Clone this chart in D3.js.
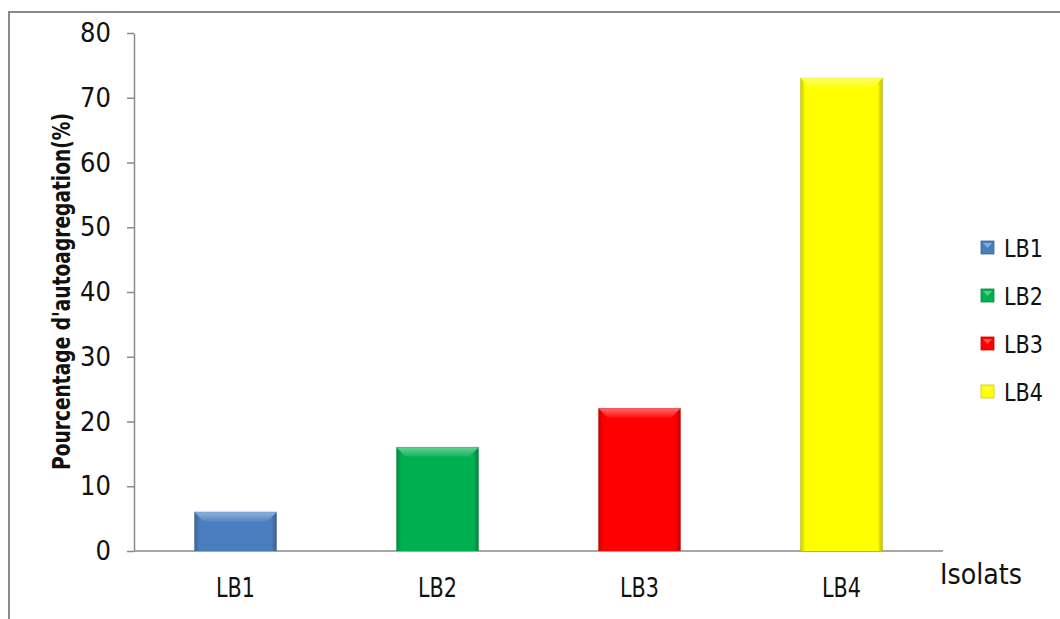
<!DOCTYPE html>
<html>
<head>
<meta charset="utf-8">
<script src="https://cdn.jsdelivr.net/npm/d3@7"></script>
<style>
  html, body { margin: 0; padding: 0; background: #fff; }
  svg { display: block; }
  text { font-family: "DejaVu Sans Condensed", "DejaVu Sans", sans-serif; fill: #111; }
</style>
</head>
<body>
<svg id="chart" width="1060" height="619"></svg>
<script>
// Auto-aggregation percentage per isolate
const categories = ["LB1", "LB2", "LB3", "LB4"];
const values = [6, 16, 22, 73];
const colors = ["#4a7ebf", "#00b050", "#ff0000", "#ffff00"];
const yTicks = [0, 10, 20, 30, 40, 50, 60, 70, 80];

(function draw() {
  const svg = d3.select("#chart");
  const W = 1060, H = 619;

  // chart area frame
  svg.append("rect")
    .attr("x", 9).attr("y", 12)
    .attr("width", W + 10).attr("height", H + 10)
    .attr("fill", "#fff").attr("stroke", "#8a8a8a").attr("stroke-width", 2);

  const plotL = 134, plotR = 943, plotT = 33, plotB = 551;

  const x = d3.scaleBand().domain(categories).range([plotL, plotR]).paddingInner(0.595).paddingOuter(0.3);
  const y = d3.scaleLinear().domain([0, 80]).range([plotB, plotT]);

  const defs = svg.append("defs");
  const soft = defs.append("filter").attr("id", "soft").attr("x", "-10%").attr("y", "-10%").attr("width", "120%").attr("height", "120%");
  soft.append("feGaussianBlur").attr("stdDeviation", 0.6);

  function shade(c, k) {
    return k > 0 ? d3.interpolateRgb(c, "#fff")(k) : d3.interpolateRgb(c, "#000")(-k);
  }

  categories.forEach((c, i) => {
    const g = defs.append("linearGradient").attr("id", "side" + i).attr("x1", 0).attr("x2", 1).attr("y1", 0).attr("y2", 0);
    g.append("stop").attr("offset", 0).attr("stop-color", shade(colors[i], -0.2));
    g.append("stop").attr("offset", 0.06).attr("stop-color", colors[i]);
    g.append("stop").attr("offset", 0.94).attr("stop-color", colors[i]);
    g.append("stop").attr("offset", 1).attr("stop-color", shade(colors[i], -0.25));
    const t = defs.append("linearGradient").attr("id", "bevel" + i).attr("x1", 0).attr("x2", 0).attr("y1", 0).attr("y2", 1);
    t.append("stop").attr("offset", 0).attr("stop-color", shade(colors[i], 0.4));
    t.append("stop").attr("offset", 1).attr("stop-color", shade(colors[i], 0.08));
  });

  // y axis
  const yAxis = d3.axisLeft(y).tickValues(yTicks).tickSize(7).tickPadding(16).tickSizeOuter(0);
  const ya = svg.append("g").attr("transform", `translate(${plotL},0)`).call(yAxis);
  ya.selectAll("path, line").attr("stroke", "#8a8a8a").attr("stroke-width", 1.5);
  ya.selectAll("text").attr("font-size", 27).attr("fill", "#111")
    .style("font-family", "'DejaVu Sans Condensed', 'DejaVu Sans', sans-serif");

  // x axis line
  svg.append("line").attr("x1", plotL).attr("x2", plotR).attr("y1", plotB).attr("y2", plotB)
    .attr("stroke", "#8a8a8a").attr("stroke-width", 1.5);

  // bars with bevelled top
  const bars = svg.append("g").selectAll("g").data(categories).join("g");
  bars.each(function(c, i) {
    const g = d3.select(this);
    const x0 = x(c), bw = x.bandwidth(), y0 = y(values[i]), h = plotB - y0;
    const b = Math.min(9, h / 2);
    g.append("rect").attr("x", x0 - 0.5).attr("y", y0 - 0.5).attr("width", bw + 1).attr("height", h + 0.5)
      .attr("fill", shade(colors[i], -0.35)).attr("opacity", 0.5).attr("filter", "url(#soft)");
    g.append("rect").attr("x", x0).attr("y", y0).attr("width", bw).attr("height", h)
      .attr("fill", `url(#side${i})`);
    g.append("polygon")
      .attr("points", [[x0, y0], [x0 + bw, y0], [x0 + bw - b, y0 + b], [x0 + b, y0 + b]].map(p => p.join(",")).join(" "))
      .attr("fill", `url(#bevel${i})`).attr("filter", "url(#soft)");
  });

  // category labels
  svg.append("g").selectAll("text").data(categories).join("text")
    .attr("x", d => x(d) + x.bandwidth() / 2).attr("y", 597)
    .attr("text-anchor", "middle").attr("font-size", 27)
    .attr("textLength", 39).attr("lengthAdjust", "spacingAndGlyphs").text(d => d);

  // axis titles
  svg.append("text").attr("x", 940).attr("y", 584).attr("font-size", 29)
    .attr("textLength", 82).attr("lengthAdjust", "spacingAndGlyphs").text("Isolats");
  svg.append("text")
    .attr("transform", `translate(70,${(113 + 470) / 2}) rotate(-90)`)
    .attr("text-anchor", "middle").attr("font-size", 25).attr("font-weight", "bold")
    .attr("textLength", 357).attr("lengthAdjust", "spacingAndGlyphs")
    .text("Pourcentage d'autoagregation(%)");

  // legend
  const lg = svg.append("g").selectAll("g").data(categories).join("g")
    .attr("transform", (d, i) => `translate(981,${248 + i * 48})`);
  lg.append("rect").attr("x", 0).attr("y", -7).attr("width", 13).attr("height", 13)
    .attr("fill", (d, i) => colors[i]).attr("stroke", (d, i) => shade(colors[i], -0.2)).attr("stroke-width", 0.8)
    .attr("filter", "url(#soft)");
  lg.append("polygon").attr("points", "2,-5 11,-5 6.5,0").attr("fill", (d, i) => shade(colors[i], 0.35));
  lg.append("text").attr("x", 23).attr("y", 9).attr("font-size", 25)
    .attr("textLength", 39).attr("lengthAdjust", "spacingAndGlyphs").text(d => d);
})();
</script>
</body>
</html>
